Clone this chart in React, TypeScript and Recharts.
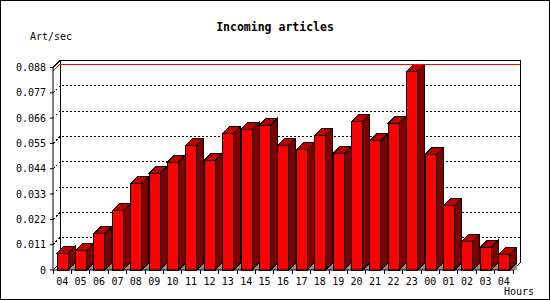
import { BarChart, Bar, XAxis, YAxis, CartesianGrid, ReferenceArea, ReferenceLine } from 'recharts';

const hours = ['04', '05', '06', '07', '08', '09', '10', '11', '12', '13', '14', '15', '16', '17', '18', '19', '20', '21', '22', '23', '00', '01', '02', '03', '04'];
const artPerSec = [0.0073, 0.0084, 0.0157, 0.0258, 0.0377, 0.042, 0.0468, 0.0542, 0.0477, 0.0594, 0.0612, 0.0629, 0.0542, 0.0522, 0.0586, 0.0507, 0.0646, 0.0561, 0.0638, 0.0864, 0.0501, 0.0281, 0.0125, 0.0099, 0.0068];
const yTicks = [0, 0.011, 0.022, 0.033, 0.044, 0.055, 0.066, 0.077, 0.088];

const data = hours.map((hour, i) => ({ hour, rate: artPerSec[i] }));
const maxRate = Math.max(...artPerSec);

const W = 550;
const H = 300;
const MARGIN = { top: 67.5, right: 37, bottom: 0, left: 0 };
const YAXIS_W = 53;
const XAXIS_H = 30;
const PLOT_W = W - YAXIS_W - MARGIN.right;
const PLOT_TOP = MARGIN.top;
const PLOT_BOTTOM = H - XAXIS_H;
const DEPTH = 7; // 3d offset, right and up

const FONT = '"DejaVu Sans Mono", monospace';

// front face, top and side of a 3d bar + the bit of grey floor next to it
const Bar3D = (props: any) => {
  const { x, y, width, height } = props;
  if (height == null || height <= 0) return null;
  const d = DEPTH;
  const r = x + width;
  const b = y + height;
  return (
    <g shapeRendering="crispEdges">
      <polygon points={`${r},${b} ${r + d},${b - d} ${r + d},${b}`} fill="#8c8c8c" />
      <polygon points={`${x},${y} ${x + d},${y - d} ${r + d},${y - d} ${r},${y}`} fill="#c00000" stroke="#000" />
      <polygon points={`${r},${y} ${r + d},${y - d} ${r + d},${b - d} ${r},${b}`} fill="#800000" stroke="#000" />
      <rect x={x} y={y} width={width} height={height} fill="#ff0000" stroke="#000" />
    </g>
  );
};

// back wall of the plot, shifted by DEPTH
const BackWall = (props: any) => {
  const { x, y, width, height } = props;
  const d = DEPTH;
  return (
    <path
      d={`M${x},${y} L${x + d},${y - d} H${x + width + d} V${y + height - d} L${x + width},${y + height}
          M${x + d},${y - d} V${y + height - d}
          M${x},${y + height} L${x + d},${y + height - d}`}
      fill="none"
      stroke="#000"
      shapeRendering="crispEdges"
    />
  );
};

const gridLine = (p: any) => {
  if (Math.abs(p.y1 - PLOT_TOP) < 1 || Math.abs(p.y1 - PLOT_BOTTOM) < 1) return <g key={p.key} />;
  const d = DEPTH;
  return (
    <path
      key={p.key}
      d={`M${p.x1},${p.y1} L${p.x1 + d},${p.y1 - d} L${p.x2 + d},${p.y2 - d}`}
      fill="none"
      stroke="#000"
      strokeDasharray="2 2"
      shapeRendering="crispEdges"
    />
  );
};

const maxLine = (p: any) => {
  const d = DEPTH;
  return (
    <path
      d={`M${p.x1},${p.y1} L${p.x1 + d},${p.y1 - d} L${p.x2 + d},${p.y2 - d}`}
      fill="none"
      stroke="#ff0000"
      shapeRendering="crispEdges"
    />
  );
};

const HourTick = (props: any) => {
  const { x, payload, index } = props;
  const step = PLOT_W / hours.length;
  return (
    <g shapeRendering="crispEdges">
      <line x1={x - step / 2} y1={PLOT_BOTTOM} x2={x - step / 2} y2={PLOT_BOTTOM + 4} stroke="#000" />
      {index === hours.length - 1 && (
        <line x1={x + step / 2} y1={PLOT_BOTTOM} x2={x + step / 2} y2={PLOT_BOTTOM + 4} stroke="#000" />
      )}
      <text x={x} y={PLOT_BOTTOM + 14.5} textAnchor="middle" fontFamily={FONT} fontSize={10} fill="#000">
        {payload.value}
      </text>
    </g>
  );
};

export default function App() {
  return (
    <div style={{ position: 'absolute', left: 0, top: 0, width: W, height: H, background: '#fff' }}>
      <BarChart width={W} height={H} data={data} margin={MARGIN} barSize={11}>
        <ReferenceArea y1={0} y2={0.088} shape={BackWall} fill="none" />
        <CartesianGrid vertical={false} horizontal={gridLine} />
        <ReferenceLine y={maxRate} stroke="#ff0000" shape={maxLine} />
        <XAxis
          dataKey="hour"
          height={XAXIS_H}
          interval={0}
          tickLine={false}
          axisLine={{ stroke: '#000' }}
          tick={<HourTick />}
        />
        <YAxis
          width={YAXIS_W}
          domain={[0, 0.088]}
          ticks={yTicks}
          interval={0}
          tickSize={3}
          tickMargin={4}
          axisLine={{ stroke: '#000' }}
          tickLine={{ stroke: '#000' }}
          tick={{ fill: '#000', fontSize: 10, fontFamily: FONT }}
          tickFormatter={(v: number) => (v === 0 ? '0' : v.toFixed(3))}
        />
        <Bar dataKey="rate" shape={Bar3D} isAnimationActive={false} />
      </BarChart>
      <div style={{ position: 'absolute', left: 0, top: 19, width: W, textAlign: 'center', fontFamily: FONT, fontSize: 11.5, fontWeight: 'bold', lineHeight: '16px' }}>
        Incoming articles
      </div>
      <div style={{ position: 'absolute', left: 30, top: 30, fontFamily: FONT, fontSize: 10, lineHeight: '14px' }}>
        Art/sec
      </div>
      <div style={{ position: 'absolute', right: 16, top: 285, fontFamily: FONT, fontSize: 10, lineHeight: '14px' }}>
        Hours
      </div>
      <div style={{ position: 'absolute', left: 0, top: 0, width: W, height: H, border: '1px solid #000', boxSizing: 'border-box', pointerEvents: 'none' }} />
    </div>
  );
}
